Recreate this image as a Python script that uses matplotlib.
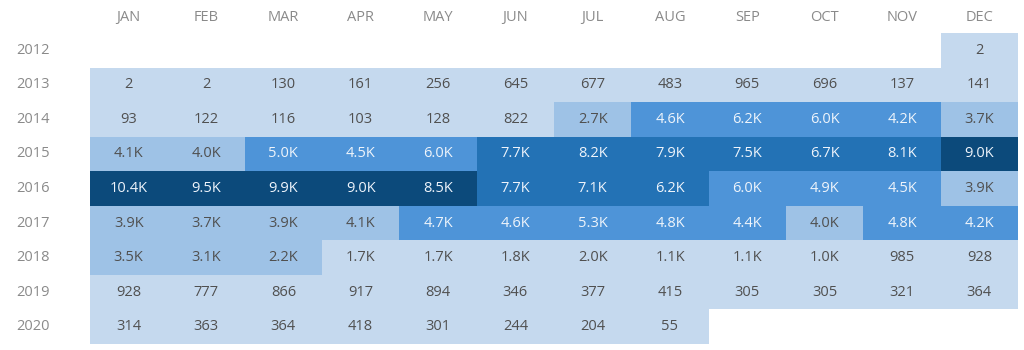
import numpy as np
import matplotlib
matplotlib.use("Agg")
import matplotlib.pyplot as plt
from matplotlib.colors import ListedColormap, BoundaryNorm

months = ["JAN", "FEB", "MAR", "APR", "MAY", "JUN",
          "JUL", "AUG", "SEP", "OCT", "NOV", "DEC"]
years = ["2012", "2013", "2014", "2015", "2016", "2017", "2018", "2019", "2020"]

nan = np.nan
v2012 = [nan, nan, nan, nan, nan, nan, nan, nan, nan, nan, nan, 2]
v2013 = [2, 2, 130, 161, 256, 645, 677, 483, 965, 696, 137, 141]
v2014 = [93, 122, 116, 103, 128, 822, 2700, 4600, 6180, 6000, 4200, 3700]
v2015 = [4100, 4000, 5000, 4500, 6000, 7700, 8200, 7900, 7500, 6700, 8100, 9000]
v2016 = [10400, 9500, 9900, 9000, 8500, 7700, 7100, 6245, 6000, 4900, 4500, 3900]
v2017 = [3900, 3700, 3900, 4120, 4700, 4600, 5300, 4800, 4400, 4000, 4800, 4200]
v2018 = [3500, 3100, 2200, 1700, 1700, 1800, 2000, 1100, 1100, 1000, 985, 928]
v2019 = [928, 777, 866, 917, 894, 346, 377, 415, 305, 305, 321, 364]
v2020 = [314, 363, 364, 418, 301, 244, 204, 55, nan, nan, nan, nan]

shades = ["#c5d9ee", "#9ec2e6", "#4e94d8", "#2372b5", "#0c4a7b"]
text_dark = "#505050"
text_light = "#eef4fb"
label_grey = "#8a8a8a"

data = np.array([v2012, v2013, v2014, v2015, v2016, v2017, v2018, v2019, v2020], dtype=float)

# quantized colour scale: equal-width steps between the smallest and largest count
lo, hi = np.nanmin(data), np.nanmax(data)
bounds = np.linspace(lo, hi, len(shades) + 1)
bounds[0] -= 1
bounds[-1] += 1
cmap = ListedColormap(shades)
norm = BoundaryNorm(bounds, cmap.N)


def fmt(v):
    return f"{v / 1000:.1f}K" if v >= 1000 else f"{int(v)}"


plt.rcParams["font.family"] = ["Open Sans", "DejaVu Sans"]
fig = plt.figure(figsize=(10.24, 3.5), dpi=100)
ax = fig.add_axes([90 / 1024, 6 / 350, 928 / 1024, 311 / 350])

masked = np.ma.masked_invalid(data)
ax.pcolormesh(np.arange(len(months) + 1), np.arange(len(years) + 1), masked,
              cmap=cmap, norm=norm, edgecolors="none")
ax.set_xlim(0, len(months))
ax.set_ylim(len(years), 0)

for r in range(len(years)):
    for c in range(len(months)):
        v = data[r, c]
        if np.isnan(v):
            continue
        level = np.searchsorted(bounds, v, side="right") - 1
        col = text_light if level >= 2 else text_dark
        ax.text(c + 0.5, r + 0.5, fmt(v), ha="center", va="center",
                fontsize=10.5, color=col)

# month header above the grid
for c, m in enumerate(months):
    ax.text(c + 0.5, -0.46, m, ha="center", va="center", fontsize=10.5,
            color=label_grey)

# year labels to the left of the grid
for r, y in enumerate(years):
    ax.text(-0.96, r + 0.5, y, ha="left", va="center", fontsize=10.5,
            color=label_grey)

ax.set_axis_off()
fig.savefig("out.png", dpi=100, facecolor="white")
